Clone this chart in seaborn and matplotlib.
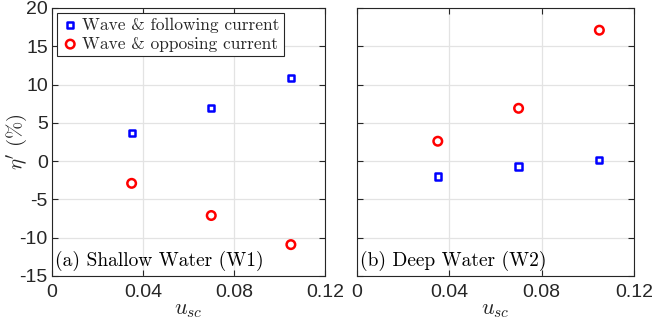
import matplotlib
matplotlib.use("Agg")
import matplotlib.pyplot as plt
import seaborn as sns
import pandas as pd

u_sc = [0.035, 0.07, 0.105]
w1_following = [3.7, 6.9, 10.9]
w1_opposing = [-2.9, -7.1, -10.9]
w2_following = [-2.0, -0.7, 0.2]
w2_opposing = [2.6, 6.9, 17.1]
labels = ["Wave & following current", "Wave & opposing current"]
panel_titles = ["(a) Shallow Water (W1)", "(b) Deep Water (W2)"]
xticks = [0, 0.04, 0.08, 0.12]
xticklabels = ["0", "0.04", "0.08", "0.12"]
yticks = [-15, -10, -5, 0, 5, 10, 15, 20]
yticklabels = ["-15", "-10", "-5", "0", "5", "10", "15", "20"]

sns.set_theme(style="white")
plt.rcParams['font.family'] = ['Liberation Sans', 'DejaVu Sans']
plt.rcParams['mathtext.fontset'] = 'cm'

SERIF = ['cmr10', 'DejaVu Serif']

fig = plt.figure(figsize=(6.54, 3.22), dpi=100)
ax1 = fig.add_axes([52/654, 1 - 276/322, 273/654, 268/322])
ax2 = fig.add_axes([357/654, 1 - 276/322, 277/654, 268/322])

panels = [(ax1, w1_following, w1_opposing), (ax2, w2_following, w2_opposing)]
for i, (ax, fol, opp) in enumerate(panels):
    df = pd.DataFrame({"u": u_sc * 2, "eta": fol + opp,
                       "kind": [labels[0]] * 3 + [labels[1]] * 3})
    sns.scatterplot(data=df[df.kind == labels[0]], x="u", y="eta", ax=ax,
                    marker="s", s=20, facecolor="none", edgecolor="#0000ff",
                    linewidth=1.8, label=labels[0], legend=False, zorder=3)
    sns.scatterplot(data=df[df.kind == labels[1]], x="u", y="eta", ax=ax,
                    marker="o", s=38, facecolor="none", edgecolor="#ff0000",
                    linewidth=1.8, label=labels[1], legend=False, zorder=3)
    ax.set_xlim(0, 0.12)
    ax.set_ylim(-15, 20)
    ax.set_xticks(xticks)
    ax.set_xticklabels(xticklabels)
    ax.set_yticks(yticks)
    ax.grid(True, color="#e3e3e3", linewidth=0.9)
    ax.set_axisbelow(True)
    ax.tick_params(direction="in", length=4, width=0.8, color="#262626",
                   top=True, right=True, bottom=True, left=True,
                   labelsize=14, labelcolor="#262626")
    ax.tick_params(axis="y", pad=3)
    ax.tick_params(axis="x", pad=6)
    for sp in ax.spines.values():
        sp.set_color("#262626")
        sp.set_linewidth(0.8)
    ax.set_xlabel(r"$u_{sc}$", fontsize=16, color="#262626", labelpad=-2)
    ax.text(0.012, 0.02, panel_titles[i], transform=ax.transAxes,
            fontsize=14, color="black", ha="left", va="bottom", family=SERIF)

ax1.set_yticklabels(yticklabels)
ax1.set_ylabel(r"$\eta'\ (\%)$", fontsize=15, color="#262626")
ax1.yaxis.set_label_coords(-22/273, 0.5)
ax2.set_ylabel("")
ax2.set_yticklabels([])

leg = ax1.legend(loc="upper left", frameon=True, fancybox=False,
                 edgecolor="#262626", framealpha=1, borderaxespad=0.3,
                 handletextpad=0.2, borderpad=0.25, labelspacing=0.2,
                 handlelength=1.0, prop={'family': SERIF, 'size': 12.5})
leg.get_frame().set_linewidth(0.8)

fig.savefig("out.png", dpi=100)
